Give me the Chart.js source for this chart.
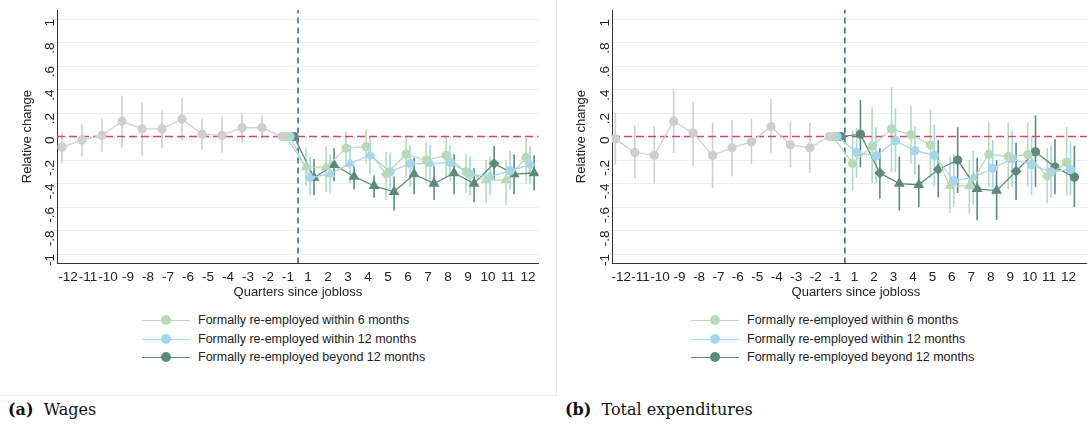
<!DOCTYPE html>
<html><head><meta charset="utf-8">
<script src="https://cdn.jsdelivr.net/npm/chart.js@4/dist/chart.umd.min.js"></script>
<style>
body{margin:0;width:1087px;height:437px;overflow:hidden;background:#fff;font-family:"Liberation Sans",Arial,sans-serif;position:relative}
.panel{position:absolute;top:0;height:300px}
.frame{position:absolute;top:0;height:395px;border-right:1px solid #eeeeee;border-bottom:1px solid #eeeeee}
.legend{position:absolute;font-size:12.5px;color:#222}
.legend div{height:18.5px;display:flex;align-items:center}
.legend span.sw{position:relative;width:48px;height:10px;margin-right:8px}
.legend span.sw:before{content:"";position:absolute;left:0;right:0;top:5px;border-top:1px solid var(--c)}
.legend span.sw:after{content:"";position:absolute;left:19px;top:0;width:10px;height:10px;border-radius:50%;background:var(--c)}
.cap{position:absolute;top:400px;font-family:"DejaVu Serif","Liberation Serif",serif;font-size:16px;color:#111}
</style></head><body>
<div class="frame" style="left:0;width:556px"></div>
<div class="panel" style="left:0;width:545px"><canvas id="c1"></canvas></div>
<div class="panel" style="left:545px;width:560px"><canvas id="c2"></canvas></div>
<div class="legend" style="left:142px;top:311px" id="l1"></div>
<div class="legend" style="left:691px;top:311px" id="l2"></div>
<div class="cap" style="left:8px"><b>(a)</b>&nbsp; Wages</div>
<div class="cap" style="left:565px"><b>(b)</b>&nbsp; Total expenditures</div>
<script>
// quarter labels, -12..-1 then 1..12
const quarters = [-12,-11,-10,-9,-8,-7,-6,-5,-4,-3,-2,-1,1,2,3,4,5,6,7,8,9,10,11,12];
const yTicks = [1,0.8,0.6,0.4,0.2,0,-0.2,-0.4,-0.6,-0.8,-1];
const legendLabels = ['Formally re-employed within 6 months','Formally re-employed within 12 months','Formally re-employed beyond 12 months'];

// (a) wages: pre-period, quarters -12..-1
const wagesPre   = [-0.09,-0.03,0.01,0.13,0.065,0.065,0.15,0.02,0.01,0.075,0.075,0];
const wagesPreHi = [0.03,0.10,0.15,0.35,0.29,0.22,0.33,0.15,0.17,0.20,0.18,0];
const wagesPreLo = [-0.23,-0.17,-0.13,-0.09,-0.16,-0.10,-0.03,-0.11,-0.14,-0.05,-0.02,0];
// post-period, quarters -1, 1..12
const wages6   = [0,-0.26,-0.26,-0.10,-0.085,-0.32,-0.15,-0.20,-0.16,-0.30,-0.37,-0.37,-0.18];
const wages6Hi = [0,-0.10,-0.08,0.04,0.06,-0.13,0.0,-0.05,0.0,-0.15,-0.20,-0.20,-0.01];
const wages6Lo = [0,-0.42,-0.47,-0.25,-0.23,-0.54,-0.35,-0.40,-0.35,-0.48,-0.57,-0.58,-0.40];
const wages12   = [0,-0.35,-0.32,-0.23,-0.16,-0.30,-0.23,-0.23,-0.22,-0.32,-0.34,-0.29,-0.24];
const wages12Hi = [0,-0.17,-0.15,-0.07,0.0,-0.14,-0.07,-0.07,-0.07,-0.17,-0.17,-0.12,-0.08];
const wages12Lo = [0,-0.50,-0.48,-0.40,-0.32,-0.45,-0.43,-0.42,-0.38,-0.50,-0.50,-0.45,-0.40];
const wagesB   = [0,-0.35,-0.24,-0.34,-0.42,-0.47,-0.32,-0.40,-0.31,-0.40,-0.23,-0.32,-0.31];
const wagesBHi = [0,-0.19,-0.10,-0.25,-0.33,-0.34,-0.18,-0.25,-0.15,-0.27,-0.08,-0.15,-0.16];
const wagesBLo = [0,-0.50,-0.38,-0.45,-0.52,-0.63,-0.49,-0.54,-0.49,-0.56,-0.37,-0.49,-0.46];
const wages6Style  = ['circle','triangle','triangle','circle','circle','rectRot','circle','circle','circle','circle','triangle','triangle','circle'];
const wages12Style = ['circle','rectRot','triangle','triangle','rectRot','circle','circle','triangle','circle','circle','triangle','circle','rectRot'];
const wagesBStyle  = ['circle','triangle','triangle','triangle','triangle','triangle','triangle','triangle','triangle','triangle','rectRot','triangle','triangle'];

// (b) total expenditures
const expPre   = [-0.02,-0.135,-0.16,0.13,0.03,-0.16,-0.095,-0.045,0.085,-0.07,-0.095,0];
const expPreHi = [0.20,0.10,0.09,0.40,0.30,0.12,0.14,0.15,0.32,0.13,0.12,0];
const expPreLo = [-0.24,-0.36,-0.40,-0.14,-0.25,-0.44,-0.34,-0.23,-0.14,-0.26,-0.31,0];
const exp6   = [0,-0.23,-0.08,0.065,0.015,-0.07,-0.42,-0.42,-0.15,-0.17,-0.155,-0.34,-0.22];
const exp6Hi = [0,0.05,0.25,0.42,0.26,0.23,-0.17,-0.20,0.12,0.12,0.12,-0.10,0.08];
const exp6Lo = [0,-0.46,-0.40,-0.30,-0.23,-0.35,-0.65,-0.66,-0.43,-0.45,-0.43,-0.57,-0.50];
const exp12   = [0,-0.135,-0.165,-0.035,-0.12,-0.16,-0.375,-0.35,-0.27,-0.19,-0.24,-0.30,-0.28];
const exp12Hi = [0,0.07,0.08,0.24,0.09,0.10,-0.15,-0.12,-0.03,0.05,0.0,-0.07,-0.05];
const exp12Lo = [0,-0.35,-0.40,-0.30,-0.33,-0.42,-0.60,-0.58,-0.50,-0.43,-0.50,-0.52,-0.50];
const expB   = [0,0.02,-0.31,-0.40,-0.41,-0.28,-0.20,-0.445,-0.46,-0.295,-0.13,-0.26,-0.345];
const expBHi = [0,0.31,-0.10,-0.17,-0.24,-0.03,0.08,-0.18,-0.20,-0.05,0.18,-0.02,-0.08];
const expBLo = [0,-0.26,-0.53,-0.63,-0.60,-0.52,-0.48,-0.71,-0.71,-0.54,-0.43,-0.49,-0.60];
const exp6Style  = ['circle','circle','circle','circle','circle','circle','triangle','triangle','circle','circle','circle','rectRot','circle'];
const exp12Style = ['circle','circle','circle','circle','circle','circle','circle','triangle','circle','circle','circle','circle','circle'];
const expBStyle  = ['circle','circle','rectRot','triangle','triangle','rectRot','circle','triangle','triangle','rectRot','circle','circle','circle'];

const GRAY='#cfcfcf', GREEN='#b8dab8', BLUE='#a6d6ea', DARK='#5e8b79';

const errorBars = {
  id:'errorBars',
  beforeDatasetsDraw(chart){
    const ctx=chart.ctx, y=chart.scales.y;
    chart.data.datasets.forEach((ds,i)=>{
      if(!ds.hi) return;
      const meta=chart.getDatasetMeta(i);
      ctx.save(); ctx.strokeStyle=ds.borderColor; ctx.lineWidth=1.6;
      meta.data.forEach((p,j)=>{
        if(ds.hi[j]===ds.lo[j]) return;
        ctx.beginPath(); ctx.moveTo(p.x,y.getPixelForValue(ds.hi[j])); ctx.lineTo(p.x,y.getPixelForValue(ds.lo[j])); ctx.stroke();
      });
      ctx.restore();
    });
  }
};

function series(vals, start, off){ return vals.map((v,i)=>({x:start+i+off,y:v})); }

function makeChart(id, xmin, xmax, padLeft, pre, preHi, preLo, s, axisW){
  const ds=[
    {data:[{x:xmin,y:0},{x:xmax,y:0}],borderColor:'#d9436b',borderDash:[8,4],borderWidth:1.6,pointRadius:0,order:9},
    {data:[{x:11.5,y:-1.08},{x:11.5,y:1.08}],borderColor:'#3d6b93',borderDash:[6,4],borderWidth:1.6,pointRadius:0,order:9},
    {data:series(pre,0,-0.3),hi:preHi,lo:preLo,borderColor:GRAY,backgroundColor:GRAY,pointStyle:'circle',pointRadius:4,borderWidth:1.3}
  ];
  const cols=[GREEN,BLUE,DARK], offs=[-0.1,0.1,0.3];
  s.forEach((a,k)=>ds.push({data:series(a.v,11,offs[k]),hi:a.hi,lo:a.lo,
    borderColor:cols[k],backgroundColor:cols[k],pointStyle:a.st,pointRadius:a.st.map(t=>t==='triangle'?5:t==='rectRot'?4.5:4),borderWidth:1.3}));
  new Chart(document.getElementById(id),{
    type:'line',
    data:{datasets:ds},
    plugins:[errorBars],
    options:{
      responsive:true,maintainAspectRatio:false,animation:false,
      layout:{padding:{left:padLeft,top:8,right:0,bottom:0}},
      plugins:{legend:{display:false},tooltip:{enabled:false}},
      scales:{
        x:{type:'linear',min:xmin,max:xmax,
          afterBuildTicks:sc=>{sc.ticks=quarters.map((q,i)=>({value:i}));},
          afterFit:sc=>{sc.height=37;},
          ticks:{callback:(v,i)=>quarters[i],color:'#222',font:{size:13.5},padding:1,maxRotation:0,autoSkip:false},
          grid:{display:false,drawTicks:true,tickLength:5,color:'#333'},
          border:{color:'#333'},
          title:{display:true,text:'Quarters since jobloss',color:'#222',font:{size:13},padding:{top:-1,bottom:0}}},
        y:{min:-1.076,max:1.076,
          afterBuildTicks:sc=>{sc.ticks=yTicks.map(v=>({value:v}));},
          afterFit:sc=>{sc.width=axisW;},
          ticks:{callback:v=>{const r=Math.round(v*10)/10;return r===0?'0':(r===1||r===-1)?String(r):String(r).replace('0.','.');},
            color:'#222',font:{size:13.5},minRotation:90,maxRotation:90,padding:2},
          grid:{color:c=>c.tick&&c.tick.value===0?'rgba(0,0,0,0)':'#e7f0f2',lineWidth:1,drawTicks:true,tickLength:5},
          border:{color:'#333'},
          title:{display:true,text:'Relative change',color:'#222',font:{size:13},padding:{top:0,bottom:1}}}
      }
    }
  });
}
makeChart('c1',-0.55,23.53,20,wagesPre,wagesPreHi,wagesPreLo,[
  {v:wages6,hi:wages6Hi,lo:wages6Lo,st:wages6Style},
  {v:wages12,hi:wages12Hi,lo:wages12Lo,st:wages12Style},
  {v:wagesB,hi:wagesBHi,lo:wagesBLo,st:wagesBStyle}],37);
makeChart('c2',-0.47,24.6,29,expPre,expPreHi,expPreLo,[
  {v:exp6,hi:exp6Hi,lo:exp6Lo,st:exp6Style},
  {v:exp12,hi:exp12Hi,lo:exp12Lo,st:exp12Style},
  {v:expB,hi:expBHi,lo:expBLo,st:expBStyle}],38);

['l1','l2'].forEach(id=>{
  const el=document.getElementById(id);
  [GREEN,BLUE,DARK].forEach((c,k)=>{
    const d=document.createElement('div');
    d.innerHTML='<span class="sw" style="--c:'+c+'"></span>'+legendLabels[k];
    el.appendChild(d);
  });
});
</script>
</body></html>
